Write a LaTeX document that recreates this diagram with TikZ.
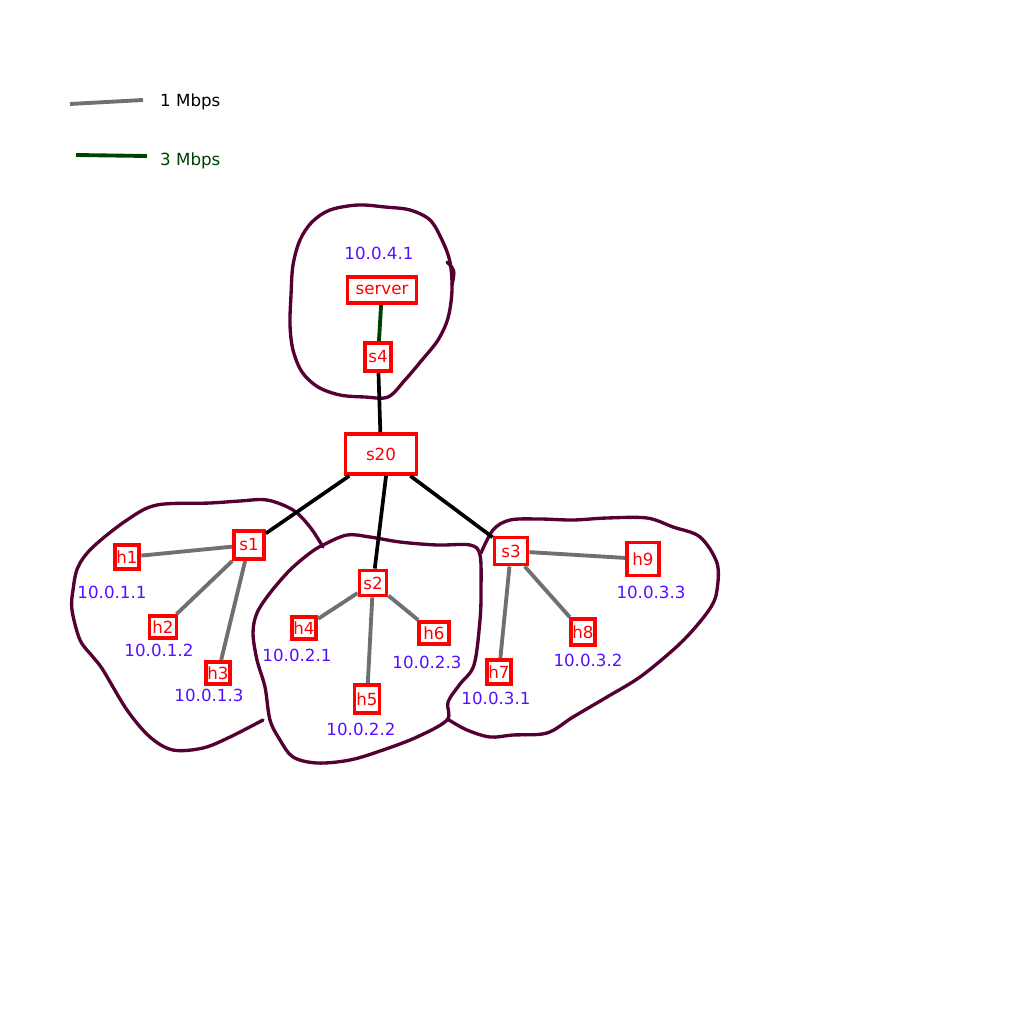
\documentclass[tikz,border=0pt]{standalone}
\usepackage{fontspec}
\setmainfont{DejaVu Sans}
\usetikzlibrary{positioning}

\definecolor{ipblue}{RGB}{85,17,255}
\definecolor{blobpurple}{RGB}{85,0,51}
\definecolor{linkgray}{RGB}{112,112,112}
\definecolor{linkgreen}{RGB}{0,64,0}

\begin{document}
\begin{tikzpicture} [x=0.02cm, y=-0.02cm,
            font=\fontsize{9.5}{11}\selectfont,
            box/.style={draw=red, line width=2.2pt, text=red,
                fill=white, minimum width=0.48cm,
                minimum height=0.48cm, inner sep=1pt},
            ip/.style={text=ipblue},
            blob/.style={draw=blobpurple, line width=1.9pt,
                line join=round, line cap=round},
            slow/.style={draw=linkgray, line width=2.2pt},
            fast/.style={draw=linkgreen, line width=2.2pt},
            trunk/.style={draw=black, line width=2.1pt}]

        \useasboundingbox (0,0) rectangle (1024,1024);

        % Legend
        \coordinate (g1) at (70,104);
        \coordinate (g2) at (143,100);
        \coordinate (k1) at (76,155);
        \coordinate (k2) at (147,156);
        \draw [slow] (g1) -- (g2);
        \draw [fast] (k1) -- (k2);
        \node (l1) [anchor=west] at (154,102) {1 Mbps};
        \node (l3) [anchor=west, text=linkgreen] at (154,161) {3 Mbps};

        % Domain around server
        \draw [blob] plot [smooth cycle, tension=0.55] coordinates {
            (330,210) (358,205) (385,207) (410,210) (430,220)
            (442,240) (450,262) (452,290) (448,318) (438,340)
            (422,360) (405,380) (388,397) (365,397) (340,395)
            (318,387) (302,372) (293,350) (290,325) (291,295)
            (293,265) (300,240) (312,222)};
        \draw [blob] (447,262) .. controls (455,270) .. (452,285);

        % Domain around s1
        \draw [blob] plot [smooth, tension=0.55] coordinates {
            (323,547) (310,527) (293,510) (267,500) (240,501)
            (210,503) (157,505) (127,520) (93,547) (78,567)
            (73,590) (72,610) (80,640) (93,657) (103,670)
            (127,710) (150,737) (173,750) (203,748) (230,737)
            (263,720)};

        % Domain around s2
        \draw [blob] plot [smooth cycle, tension=0.55] coordinates {
            (323,545) (347,535) (370,537) (400,542) (437,545)
            (470,545) (480,555) (481,590) (480,620) (474,665)
            (460,684) (448,702) (447,720) (417,737) (383,750)
            (350,760) (317,763) (293,757) (280,740) (270,720)
            (265,687) (257,660) (253,633) (257,613) (270,593)
            (290,570) (310,553)};

        % Domain around s3
        \draw [blob] plot [smooth, tension=0.55] coordinates {
            (481,553) (493,530) (510,520) (540,519) (573,520)
            (607,518) (647,518) (673,527) (700,537) (717,563)
            (717,590) (711,607) (693,630) (673,650) (640,677)
            (607,697) (573,717) (547,733) (513,735) (490,737)
            (467,730) (449,720)};

        % Server and core switches
        \node (server) [box, minimum width=1.38cm,
            minimum height=0.52cm] at (382,290) {server};
        \node (s4) [box, minimum width=0.52cm,
            minimum height=0.56cm] at (378,357) {s4};
        \node (s20) [box, minimum width=1.42cm,
            minimum height=0.80cm] at (381,454) {s20};

        % Edge switches
        \node (s1) [box, minimum width=0.60cm,
            minimum height=0.56cm] at (249,545) {s1};
        \node (s2) [box, minimum width=0.54cm,
            minimum height=0.50cm] at (373,583) {s2};
        \node (s3) [box, minimum width=0.66cm,
            minimum height=0.54cm] at (511,551) {s3};

        % Hosts
        \node (h1) [box] at (127,557) {h1};
        \node (h2) [box, minimum width=0.54cm,
            minimum height=0.44cm] at (163,627) {h2};
        \node (h3) [box, minimum height=0.44cm] at (218,673) {h3};
        \node (h4) [box, minimum width=0.42cm,
            minimum height=0.44cm] at (304,628) {h4};
        \node (h5) [box, minimum width=0.50cm,
            minimum height=0.56cm] at (367,699) {h5};
        \node (h6) [box, minimum width=0.60cm,
            minimum height=0.44cm] at (434,633) {h6};
        \node (h7) [box, minimum width=0.46cm] at (499,672) {h7};
        \node (h8) [box, minimum width=0.46cm,
            minimum height=0.52cm] at (583,632) {h8};
        \node (h9) [box, minimum width=0.64cm,
            minimum height=0.66cm] at (643,559) {h9};

        % Addresses
        \node (a0) [ip] at (379,253) {10.0.4.1};
        \node (a1) [ip] at (112,592) {10.0.1.1};
        \node (a2) [ip] at (159,650) {10.0.1.2};
        \node (a3) [ip] at (209,695) {10.0.1.3};
        \node (a4) [ip] at (297,655) {10.0.2.1};
        \node (a5) [ip] at (361,729) {10.0.2.2};
        \node (a6) [ip] at (427,662) {10.0.2.3};
        \node (a7) [ip] at (496,698) {10.0.3.1};
        \node (a8) [ip] at (588,660) {10.0.3.2};
        \node (a9) [ip] at (651,592) {10.0.3.3};

        % Links
        \path
            (server) edge [fast] (s4)
            (s4) edge [trunk] (s20)
            (s20) edge [trunk] (s1)
            (s20.283) edge [trunk] (s2)
            (s20) edge [trunk] (s3)

            (h1) edge [slow] (s1)
            (h2) edge [slow] (s1)
            (h3) edge [slow] (s1)
            (h4) edge [slow] (s2)
            (h5) edge [slow] (s2)
            (h6) edge [slow] (s2)
            (h7) edge [slow] (s3)
            (h8) edge [slow] (s3)
            (h9) edge [slow] (s3)
            ;
\end{tikzpicture}
\end{document}
